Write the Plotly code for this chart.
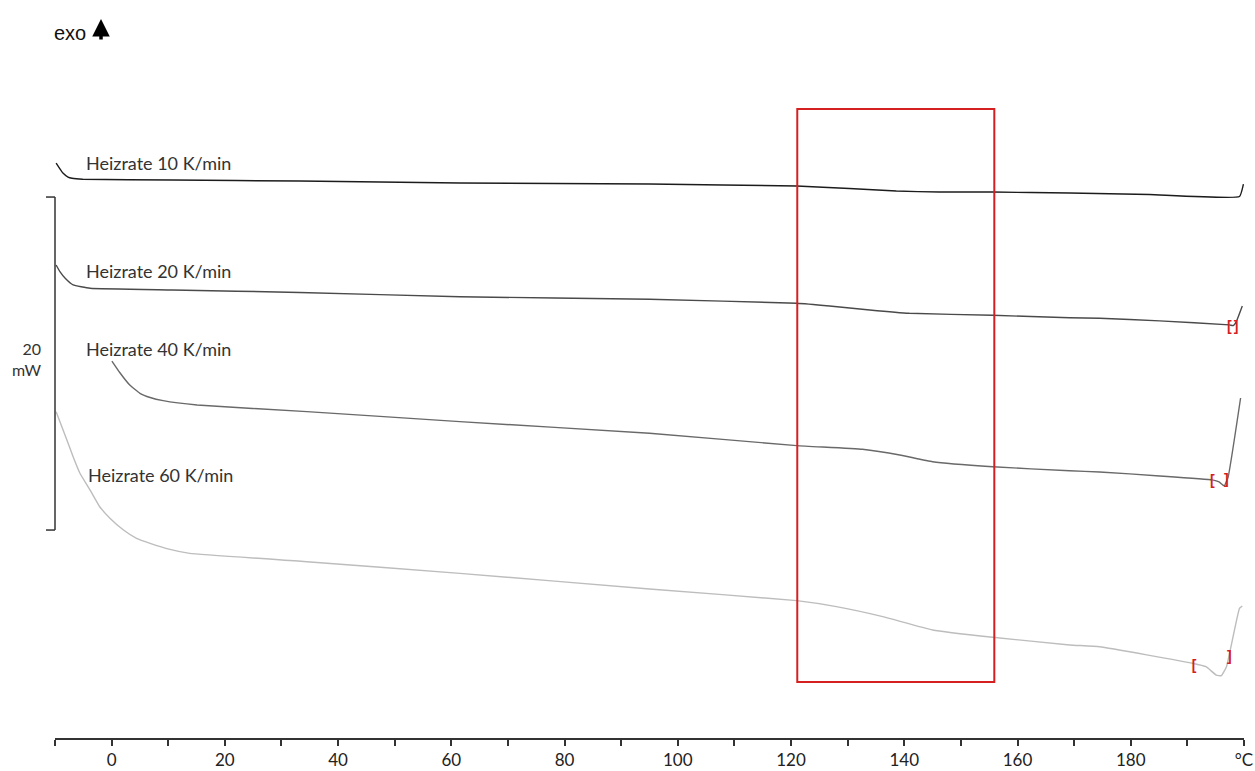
import plotly.graph_objects as go

# ---- data (temperature in °C, heat flow in mW with arbitrary offsets) ----
T_10 = [-9.8, -9.1, -8.6, -7.7, -7.0, -5.1, 10.8, 33.2, 61.5, 95.0, 121.0, 130.3, 138.6, 146.2, 155.6, 169.2, 183.3, 199.2, 199.9]
Q_10 = [34.53, 34.17, 33.93, 33.69, 33.62, 33.56, 33.51, 33.45, 33.33, 33.27, 33.15, 33.00, 32.85, 32.79, 32.79, 32.73, 32.64, 32.52, 33.27]

T_20 = [-9.8, -9.1, -8.2, -6.8, -3.8, 10.8, 33.2, 61.5, 95.0, 121.0, 126.8, 133.9, 140.9, 155.6, 169.2, 174.5, 185.1, 197.4, 198.1, 198.6, 199.7]
Q_20 = [28.41, 27.99, 27.61, 27.21, 27.01, 26.91, 26.76, 26.50, 26.35, 26.11, 25.95, 25.71, 25.51, 25.39, 25.24, 25.21, 25.05, 24.81, 24.77, 24.98, 25.95]

T_40 = [0.05, 1.5, 3.2, 5.0, 6.8, 9.1, 15.1, 34.5, 61.5, 95.0, 121.0, 132.6, 139.2, 145.0, 155.6, 169.2, 174.5, 185.1, 194.4, 195.6, 196.5, 197.2, 199.4]
Q_40 = [22.64, 21.92, 21.20, 20.70, 20.45, 20.26, 20.00, 19.60, 19.00, 18.30, 17.56, 17.34, 17.00, 16.59, 16.29, 16.05, 15.98, 15.74, 15.50, 15.38, 15.14, 15.68, 20.42]

T_60 = [-9.8, -7.9, -6.8, -5.6, -3.8, -2.1, -0.3, 2.1, 4.4, 6.8, 10.3, 13.8, 34.5, 61.5, 95.0, 121.0, 128.0, 136.2, 145.0, 155.6, 169.2, 174.5, 190.9, 193.3, 195.1, 196.0, 196.9, 199.2, 199.7]
Q_60 = [19.60, 17.90, 16.89, 15.90, 14.89, 13.89, 13.20, 12.49, 11.99, 11.69, 11.33, 11.09, 10.59, 9.89, 8.95, 8.25, 7.89, 7.29, 6.49, 6.05, 5.59, 5.48, 4.49, 4.28, 3.78, 3.74, 4.28, 7.79, 7.93]

series_names = ["Heizrate 10 K/min", "Heizrate 20 K/min", "Heizrate 40 K/min", "Heizrate 60 K/min"]
series_T = [T_10, T_20, T_40, T_60]
series_Q = [Q_10, Q_20, Q_40, Q_60]
series_colors = ["#1c1c1c", "#4a4a4a", "#696969", "#bdbdbd"]
label_T = [-4.9, -4.9, -4.9, -4.5]
label_Q = [34.53, 28.05, 23.36, 15.80]

# integration limit markers (red brackets)
bracket_T = [197.4, 198.6, 194.4, 196.9, 191.2, 197.4]
bracket_Q = [24.68, 24.68, 15.38, 15.44, 4.32, 4.86]
bracket_txt = ["[", "]", "[", "]", "[", "]"]

# highlighted glass transition region
box_T = [121.1, 155.9]
box_Q = [3.36, 37.78]

# scale bar
scale_top = 32.49
scale_mw = 20

x_ticks = list(range(-10, 201, 10))
x_ticktext = ["" if (v % 20 != 0 or v < 0) else str(v) for v in x_ticks]
x_ticktext[-1] = "°C"

fig = go.Figure()
for name, T, Q, c in zip(series_names, series_T, series_Q, series_colors):
    fig.add_trace(go.Scatter(x=T, y=Q, mode="lines", name=name,
                             line=dict(color=c, width=1.4, shape="spline", smoothing=0.35),
                             showlegend=False, hoverinfo="skip"))

fig.add_trace(go.Scatter(x=bracket_T, y=bracket_Q, mode="text",
                         text=["<b>" + t + "</b>" for t in bracket_txt],
                         textfont=dict(color="#d42020", size=14, family="Liberation Sans"),
                         showlegend=False, hoverinfo="skip"))

annotations = []
for name, lt, lq in zip(series_names, label_T, label_Q):
    annotations.append(dict(x=lt, y=lq, xref="x", yref="y", text=name, showarrow=False,
                            xanchor="left", yanchor="middle",
                            font=dict(family="Lato", size=18, color="#333333")))

annotations.append(dict(x=-0.0101, y=(scale_top - scale_mw / 2) + 0.25, xref="paper", yref="y",
                        text="20<br>mW", showarrow=False, xanchor="right", yanchor="middle",
                        align="right", font=dict(family="Lato", size=16, color="#333333")))

annotations.append(dict(x=-0.0025, y=0.955, xref="paper", yref="paper", text="exo",
                        showarrow=False, xanchor="left", yanchor="middle",
                        font=dict(family="Liberation Sans", size=20, color="#111111")))
annotations.append(dict(x=0.0387, y=0.9743, xref="paper", yref="paper", text="",
                        showarrow=True, ax=0, ay=22, arrowhead=2, arrowsize=1.0,
                        arrowwidth=3.5, arrowcolor="#000000"))

shapes = [
    dict(type="rect", xref="x", yref="y", x0=box_T[0], x1=box_T[1], y0=box_Q[0], y1=box_Q[1],
         line=dict(color="#d42020", width=2)),
    dict(type="line", xref="paper", yref="y", x0=0, x1=0, y0=scale_top, y1=scale_top - scale_mw,
         line=dict(color="#333333", width=1.5)),
    dict(type="line", xref="paper", yref="y", x0=-0.0076, x1=0, y0=scale_top, y1=scale_top,
         line=dict(color="#333333", width=1.5)),
    dict(type="line", xref="paper", yref="y", x0=-0.0076, x1=0, y0=scale_top - scale_mw,
         y1=scale_top - scale_mw, line=dict(color="#333333", width=1.5)),
]

fig.update_layout(
    width=1255, height=771,
    margin=dict(l=55, r=11, t=0, b=33),
    paper_bgcolor="white", plot_bgcolor="white",
    annotations=annotations, shapes=shapes,
    xaxis=dict(range=[-10, 200], showline=True, linecolor="#333333", linewidth=1.5,
               ticks="outside", ticklen=6, tickwidth=1.5, tickcolor="#333333",
               tickvals=x_ticks, ticktext=x_ticktext, showgrid=False, zeroline=False,
               tickfont=dict(family="Lato", size=17, color="#222222"), automargin=False,
               fixedrange=True),
    yaxis=dict(range=[0, 44.324], visible=False, showgrid=False, zeroline=False,
               automargin=False, fixedrange=True),
)

fig.write_html("out.html", config={"displayModeBar": False})
